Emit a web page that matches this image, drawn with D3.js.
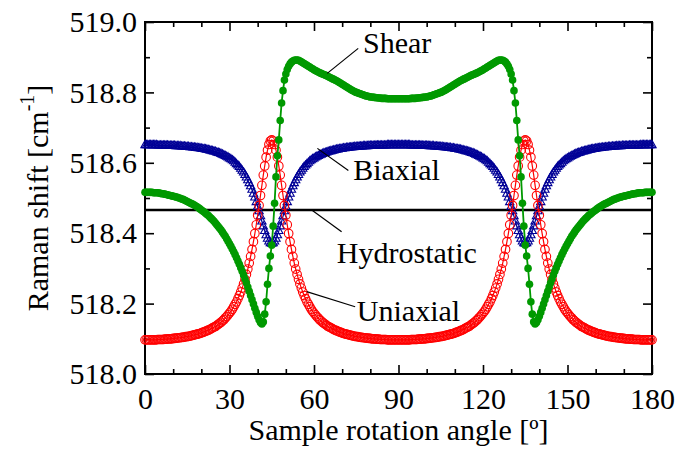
<!DOCTYPE html>
<html><head><meta charset="utf-8">
<script src="https://cdn.jsdelivr.net/npm/d3@7"></script>
<style>
body{margin:0;background:#fff}
svg{display:block}
text{font-family:"Liberation Serif","Times New Roman",serif;fill:#000}
</style>
</head><body>
<svg id="c" width="675" height="453"></svg>
<script>
// ---- data ----
const angleStart = 0, angleEnd = 180, angleStep = 0.5;
const angles = d3.range(angleStart, angleEnd + angleStep / 2, angleStep);

const uniaxial = [
518.097,518.097,518.097,518.097,518.097,518.097,518.097,518.097,518.097,518.098,
518.098,518.098,518.098,518.098,518.099,518.099,518.099,518.100,518.100,518.100,
518.101,518.101,518.102,518.102,518.103,518.103,518.104,518.104,518.105,518.106,
518.106,518.107,518.108,518.109,518.110,518.111,518.112,518.113,518.114,518.115,
518.117,518.118,518.120,518.121,518.123,518.125,518.126,518.129,518.131,518.133,
518.135,518.138,518.141,518.144,518.147,518.151,518.154,518.159,518.163,518.168,
518.173,518.178,518.184,518.191,518.198,518.205,518.214,518.223,518.233,518.244,
518.256,518.269,518.283,518.298,518.315,518.334,518.354,518.376,518.399,518.424,
518.451,518.479,518.507,518.536,518.565,518.591,518.616,518.636,518.652,518.662,
518.665,
518.662,518.652,518.636,518.616,518.591,518.565,518.536,518.507,518.479,518.451,
518.424,518.399,518.376,518.354,518.334,518.315,518.298,518.283,518.269,518.256,
518.244,518.233,518.223,518.214,518.205,518.198,518.191,518.184,518.178,518.173,
518.168,518.163,518.159,518.154,518.151,518.147,518.144,518.141,518.138,518.135,
518.133,518.131,518.129,518.126,518.125,518.123,518.121,518.120,518.118,518.117,
518.115,518.114,518.113,518.112,518.111,518.110,518.109,518.108,518.107,518.106,
518.106,518.105,518.104,518.104,518.103,518.103,518.102,518.102,518.101,518.101,
518.100,518.100,518.100,518.099,518.099,518.099,518.098,518.098,518.098,518.098,
518.098,518.097,518.097,518.097,518.097,518.097,518.097,518.097,518.097,518.097,
518.097,518.097,518.097,518.097,518.097,518.097,518.097,518.097,518.098,
518.098,518.098,518.098,518.098,518.099,518.099,518.099,518.100,518.100,518.100,
518.101,518.101,518.102,518.102,518.103,518.103,518.104,518.104,518.105,518.106,
518.106,518.107,518.108,518.109,518.110,518.111,518.112,518.113,518.114,518.115,
518.117,518.118,518.120,518.121,518.123,518.125,518.126,518.129,518.131,518.133,
518.135,518.138,518.141,518.144,518.147,518.151,518.154,518.159,518.163,518.168,
518.173,518.178,518.184,518.191,518.198,518.205,518.214,518.223,518.233,518.244,
518.256,518.269,518.283,518.298,518.315,518.334,518.354,518.376,518.399,518.424,
518.451,518.479,518.507,518.536,518.565,518.591,518.616,518.636,518.652,518.662,
518.665,
518.662,518.652,518.636,518.616,518.591,518.565,518.536,518.507,518.479,518.451,
518.424,518.399,518.376,518.354,518.334,518.315,518.298,518.283,518.269,518.256,
518.244,518.233,518.223,518.214,518.205,518.198,518.191,518.184,518.178,518.173,
518.168,518.163,518.159,518.154,518.151,518.147,518.144,518.141,518.138,518.135,
518.133,518.131,518.129,518.126,518.125,518.123,518.121,518.120,518.118,518.117,
518.115,518.114,518.113,518.112,518.111,518.110,518.109,518.108,518.107,518.106,
518.106,518.105,518.104,518.104,518.103,518.103,518.102,518.102,518.101,518.101,
518.100,518.100,518.100,518.099,518.099,518.099,518.098,518.098,518.098,518.098,
518.098,518.097,518.097,518.097,518.097,518.097,518.097,518.097,518.097,518.097
];

const biaxial = [
518.650,518.650,518.650,518.650,518.650,518.650,518.650,518.650,518.650,518.649,
518.649,518.649,518.649,518.649,518.649,518.649,518.649,518.648,518.648,518.648,
518.648,518.648,518.647,518.647,518.647,518.647,518.646,518.646,518.646,518.645,
518.645,518.645,518.644,518.644,518.643,518.643,518.642,518.642,518.641,518.641,
518.640,518.639,518.639,518.638,518.637,518.636,518.635,518.634,518.633,518.632,
518.631,518.629,518.628,518.627,518.625,518.623,518.621,518.619,518.617,518.615,
518.612,518.610,518.607,518.604,518.600,518.596,518.592,518.588,518.583,518.577,
518.572,518.565,518.558,518.550,518.542,518.533,518.523,518.512,518.501,518.488,
518.475,518.462,518.448,518.433,518.419,518.406,518.394,518.384,518.376,518.371,
518.370,
518.371,518.376,518.384,518.394,518.406,518.419,518.433,518.448,518.462,518.475,
518.488,518.501,518.512,518.523,518.533,518.542,518.550,518.558,518.565,518.572,
518.577,518.583,518.588,518.592,518.596,518.600,518.604,518.607,518.610,518.612,
518.615,518.617,518.619,518.621,518.623,518.625,518.627,518.628,518.629,518.631,
518.632,518.633,518.634,518.635,518.636,518.637,518.638,518.639,518.639,518.640,
518.641,518.641,518.642,518.642,518.643,518.643,518.644,518.644,518.645,518.645,
518.645,518.646,518.646,518.646,518.647,518.647,518.647,518.647,518.648,518.648,
518.648,518.648,518.648,518.649,518.649,518.649,518.649,518.649,518.649,518.649,
518.649,518.650,518.650,518.650,518.650,518.650,518.650,518.650,518.650,518.650,
518.650,518.650,518.650,518.650,518.650,518.650,518.650,518.650,518.649,
518.649,518.649,518.649,518.649,518.649,518.649,518.649,518.648,518.648,518.648,
518.648,518.648,518.647,518.647,518.647,518.647,518.646,518.646,518.646,518.645,
518.645,518.645,518.644,518.644,518.643,518.643,518.642,518.642,518.641,518.641,
518.640,518.639,518.639,518.638,518.637,518.636,518.635,518.634,518.633,518.632,
518.631,518.629,518.628,518.627,518.625,518.623,518.621,518.619,518.617,518.615,
518.612,518.610,518.607,518.604,518.600,518.596,518.592,518.588,518.583,518.577,
518.572,518.565,518.558,518.550,518.542,518.533,518.523,518.512,518.501,518.488,
518.475,518.462,518.448,518.433,518.419,518.406,518.394,518.384,518.376,518.371,
518.370,
518.371,518.376,518.384,518.394,518.406,518.419,518.433,518.448,518.462,518.475,
518.488,518.501,518.512,518.523,518.533,518.542,518.550,518.558,518.565,518.572,
518.577,518.583,518.588,518.592,518.596,518.600,518.604,518.607,518.610,518.612,
518.615,518.617,518.619,518.621,518.623,518.625,518.627,518.628,518.629,518.631,
518.632,518.633,518.634,518.635,518.636,518.637,518.638,518.639,518.639,518.640,
518.641,518.641,518.642,518.642,518.643,518.643,518.644,518.644,518.645,518.645,
518.645,518.646,518.646,518.646,518.647,518.647,518.647,518.647,518.648,518.648,
518.648,518.648,518.648,518.649,518.649,518.649,518.649,518.649,518.649,518.649,
518.649,518.650,518.650,518.650,518.650,518.650,518.650,518.650,518.650,518.650
];

const shear = [
518.516,518.516,518.516,518.516,518.516,518.516,518.515,518.515,518.515,518.515,
518.514,518.513,518.512,518.512,518.511,518.510,518.509,518.508,518.507,518.506,
518.505,518.504,518.503,518.502,518.500,518.499,518.497,518.496,518.494,518.492,
518.490,518.488,518.486,518.484,518.482,518.480,518.477,518.475,518.472,518.469,
518.466,518.463,518.460,518.457,518.453,518.450,518.446,518.442,518.438,518.434,
518.429,518.424,518.419,518.414,518.409,518.403,518.397,518.391,518.384,518.377,
518.370,518.363,518.355,518.347,518.339,518.330,518.321,518.312,518.302,518.292,
518.281,518.270,518.259,518.247,518.235,518.223,518.211,518.199,518.187,518.175,
518.164,518.154,518.146,518.142,518.148,518.170,518.205,518.255,518.300,518.335,
518.366,518.420,518.485,518.560,518.620,518.665,518.720,518.770,518.805,518.835,
518.852,518.865,518.874,518.881,518.886,518.889,518.891,518.892,518.892,518.891,
518.889,518.887,518.884,518.882,518.879,518.877,518.874,518.872,518.869,518.867,
518.864,518.862,518.860,518.858,518.856,518.854,518.852,518.851,518.849,518.847,
518.845,518.843,518.841,518.839,518.837,518.835,518.833,518.831,518.828,518.826,
518.823,518.821,518.818,518.816,518.813,518.811,518.808,518.806,518.804,518.802,
518.800,518.799,518.797,518.796,518.794,518.793,518.791,518.790,518.789,518.788,
518.787,518.787,518.786,518.786,518.785,518.785,518.784,518.784,518.783,518.783,
518.783,518.783,518.782,518.782,518.782,518.782,518.782,518.782,518.782,518.782,
518.782,
518.782,518.782,518.782,518.782,518.782,518.782,518.782,518.782,518.783,518.783,
518.783,518.783,518.784,518.784,518.785,518.785,518.786,518.786,518.787,518.787,
518.788,518.789,518.790,518.791,518.793,518.794,518.796,518.797,518.799,518.800,
518.802,518.804,518.806,518.808,518.811,518.813,518.816,518.818,518.821,518.823,
518.826,518.828,518.831,518.833,518.835,518.837,518.839,518.841,518.843,518.845,
518.847,518.849,518.851,518.852,518.854,518.856,518.858,518.860,518.862,518.864,
518.867,518.869,518.872,518.874,518.877,518.879,518.882,518.884,518.887,518.889,
518.891,518.892,518.892,518.891,518.889,518.886,518.881,518.874,518.865,518.852,
518.835,518.805,518.770,518.720,518.665,518.620,518.560,518.485,518.420,518.366,
518.335,518.300,518.255,518.205,518.170,518.148,518.142,518.146,518.154,518.164,
518.175,518.187,518.199,518.211,518.223,518.235,518.247,518.259,518.270,518.281,
518.292,518.302,518.312,518.321,518.330,518.339,518.347,518.355,518.363,518.370,
518.377,518.384,518.391,518.397,518.403,518.409,518.414,518.419,518.424,518.429,
518.434,518.438,518.442,518.446,518.450,518.453,518.457,518.460,518.463,518.466,
518.469,518.472,518.475,518.477,518.480,518.482,518.484,518.486,518.488,518.490,
518.492,518.494,518.496,518.497,518.499,518.500,518.502,518.503,518.504,518.505,
518.506,518.507,518.508,518.509,518.510,518.511,518.512,518.512,518.513,518.514,
518.515,518.515,518.515,518.515,518.516,518.516,518.516,518.516,518.516,518.516
];

const hydrostaticAngles = [0, 180];
const hydrostatic = [518.466, 518.466];

const xMajorTicks = [0, 30, 60, 90, 120, 150, 180];
const xMinorTicks = [10, 20, 40, 50, 70, 80, 100, 110, 130, 140, 160, 170];
const yMajorTicks = [518.0, 518.2, 518.4, 518.6, 518.8, 519.0];
const yMinorTicks = [518.1, 518.3, 518.5, 518.7, 518.9];

// ---- drawing ----
const svg = d3.select("#c");
const L = 145, R = 652, T = 22, B = 374;
const x = d3.scaleLinear().domain([0, 180]).range([L, R]);
const y = d3.scaleLinear().domain([518, 519]).range([B, T]);

function styleAxis(g) {
  g.select(".domain").remove();
  g.selectAll(".tick line").attr("stroke", "#000").attr("stroke-width", 1.6);
  g.selectAll(".tick text").attr("font-size", 30).attr("font-family", "Liberation Serif, serif").attr("fill", "#000");
}

svg.append("g").attr("transform", `translate(0,${B})`)
  .call(d3.axisBottom(x).tickValues(xMajorTicks).tickSizeInner(-9).tickSizeOuter(0).tickPadding(14).tickFormat(d3.format("d")))
  .call(styleAxis);
svg.append("g").attr("transform", `translate(0,${B})`)
  .call(d3.axisBottom(x).tickValues(xMinorTicks).tickSizeInner(-5).tickSizeOuter(0).tickFormat(""))
  .call(styleAxis);
svg.append("g").attr("transform", `translate(0,${T})`)
  .call(d3.axisTop(x).tickValues(xMajorTicks).tickSizeInner(-9).tickSizeOuter(0).tickFormat(""))
  .call(styleAxis);
svg.append("g").attr("transform", `translate(0,${T})`)
  .call(d3.axisTop(x).tickValues(xMinorTicks).tickSizeInner(-5).tickSizeOuter(0).tickFormat(""))
  .call(styleAxis);
svg.append("g").attr("transform", `translate(${L},0)`)
  .call(d3.axisLeft(y).tickValues(yMajorTicks).tickSizeInner(-9).tickSizeOuter(0).tickPadding(8).tickFormat(d3.format(".1f")))
  .call(styleAxis);
svg.append("g").attr("transform", `translate(${L},0)`)
  .call(d3.axisLeft(y).tickValues(yMinorTicks).tickSizeInner(-5).tickSizeOuter(0).tickFormat(""))
  .call(styleAxis);
svg.append("g").attr("transform", `translate(${R},0)`)
  .call(d3.axisRight(y).tickValues(yMajorTicks).tickSizeInner(-9).tickSizeOuter(0).tickFormat(""))
  .call(styleAxis);
svg.append("g").attr("transform", `translate(${R},0)`)
  .call(d3.axisRight(y).tickValues(yMinorTicks).tickSizeInner(-5).tickSizeOuter(0).tickFormat(""))
  .call(styleAxis);

svg.append("rect").attr("x", L).attr("y", T).attr("width", R - L).attr("height", B - T)
  .attr("fill", "none").attr("stroke", "#000").attr("stroke-width", 2);

const line = d3.line().x(d => x(d[0])).y(d => y(d[1]));

svg.append("path").datum(hydrostaticAngles.map((a, i) => [a, hydrostatic[i]]))
  .attr("d", line).attr("fill", "none").attr("stroke", "#000").attr("stroke-width", 2.6);

function series(vals, color, lw) {
  const pts = angles.map((a, i) => [a, vals[i]]);
  svg.append("path").datum(pts).attr("d", line).attr("fill", "none")
    .attr("stroke", color).attr("stroke-width", lw);
  return pts;
}

const blue = "#000096";
const bPts = series(biaxial, blue, 1.2);
const tri = d3.symbol().type(d3.symbolTriangle).size(30);
svg.append("g").selectAll("path").data(bPts).join("path")
  .attr("transform", d => `translate(${x(d[0])},${y(d[1])})`)
  .attr("d", tri).attr("fill", "none").attr("stroke", blue).attr("stroke-width", 1.1);

const red = "#ff0000";
const uPts = series(uniaxial, red, 1.2);
svg.append("g").selectAll("circle").data(uPts).join("circle")
  .attr("cx", d => x(d[0])).attr("cy", d => y(d[1])).attr("r", 4.3)
  .attr("fill", "none").attr("stroke", red).attr("stroke-width", 1.1);

const green = "#009900";
const sPts = series(shear, green, 1.8);
svg.append("g").selectAll("circle").data(sPts).join("circle")
  .attr("cx", d => x(d[0])).attr("cy", d => y(d[1])).attr("r", 3.8)
  .attr("fill", green).attr("stroke", "none");

const notes = [
  {t: "Shear",       from: [64.7, 518.854], to: [75.7, 518.925], at: [77.4, 518.913]},
  {t: "Biaxial",     from: [61.2, 518.641], to: [72.2, 518.578], at: [73.9, 518.551]},
  {t: "Hydrostatic", from: [59.2, 518.466], to: [69.8, 518.404], at: [68.1, 518.314]},
  {t: "Uniaxial",    from: [57.4, 518.234], to: [74.6, 518.191], at: [75.2, 518.151]}
];
notes.forEach(n => {
  svg.append("line").attr("x1", x(n.from[0])).attr("y1", y(n.from[1]))
    .attr("x2", x(n.to[0])).attr("y2", y(n.to[1])).attr("stroke", "#000").attr("stroke-width", 1.2);
  svg.append("text").attr("x", x(n.at[0])).attr("y", y(n.at[1])).attr("font-size", 30).text(n.t);
});

svg.append("text").attr("x", (L + R) / 2).attr("y", 440).attr("text-anchor", "middle")
  .attr("font-size", 30).text("Sample rotation angle [º]");
const yt = svg.append("text").attr("transform", `translate(48,${(T + B) / 2}) rotate(-90)`)
  .attr("text-anchor", "middle").attr("font-size", 30);
yt.append("tspan").text("Raman shift [cm");
yt.append("tspan").attr("font-size", 20).attr("dy", -14).text("-1");
yt.append("tspan").attr("dy", 14).text("]");
</script>
</body></html>
